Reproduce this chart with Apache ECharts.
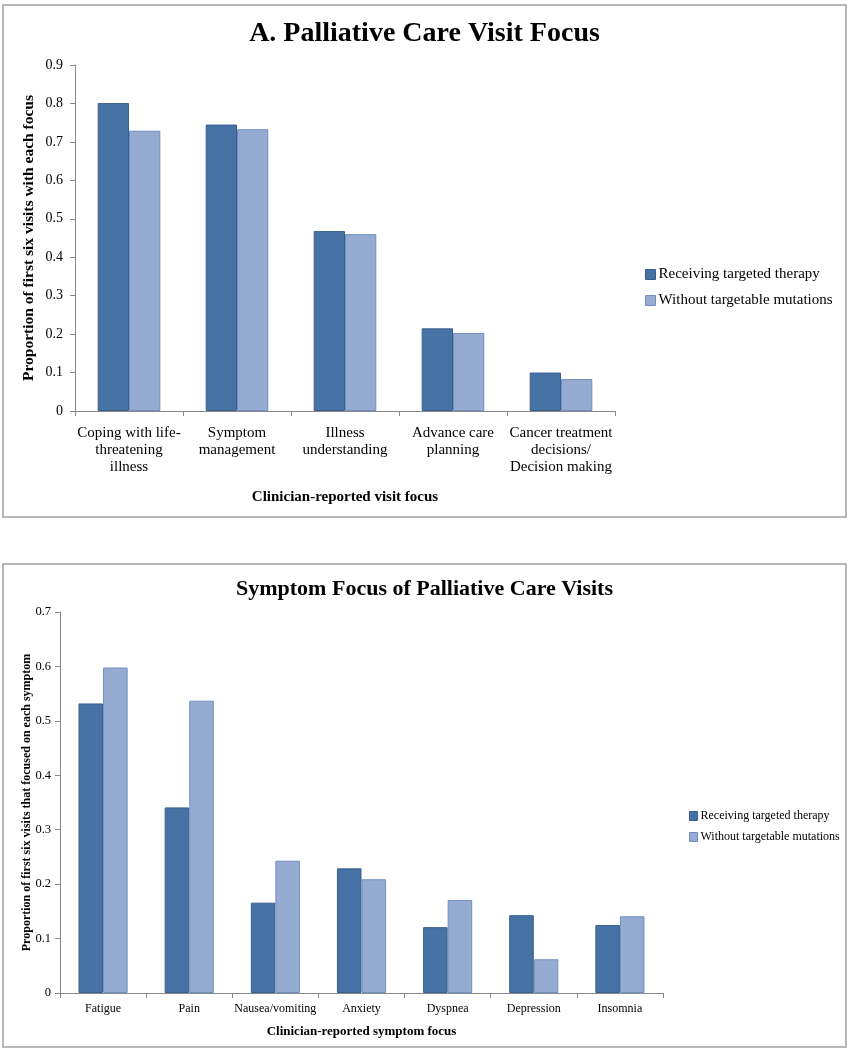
<!DOCTYPE html>
<html>
<head>
<meta charset="utf-8">
<script src="https://cdn.jsdelivr.net/npm/echarts@6/dist/echarts.min.js"></script>
<style>
html,body{margin:0;padding:0;background:#fff;}
#c{width:849px;height:1050px;}
</style>
</head>
<body>
<div id="c"></div>
<script>
// Chart A data
const catsA = ['Coping with life-\nthreatening\nillness', 'Symptom\nmanagement', 'Illness\nunderstanding', 'Advance care\nplanning', 'Cancer treatment\ndecisions/\nDecision making'];
const targetedA = [0.801, 0.745, 0.468, 0.215, 0.100];
const withoutA = [0.729, 0.733, 0.460, 0.203, 0.083];
// Chart B data
const catsB = ['Fatigue', 'Pain', 'Nausea/vomiting', 'Anxiety', 'Dyspnea', 'Depression', 'Insomnia'];
const targetedB = [0.532, 0.341, 0.166, 0.229, 0.121, 0.143, 0.125];
const withoutB = [0.598, 0.537, 0.243, 0.209, 0.171, 0.062, 0.141];
const seriesNames = ['Receiving targeted therapy', 'Without targetable mutations'];

const FONT = '"Liberation Serif", "Times New Roman", serif';
const DARK = '#4672a6', DARK_B = '#3a5e8c';
const LIGHT = '#95abd2', LIGHT_B = '#6f8fc0';
const AX = '#888888';

const chart = echarts.init(document.getElementById('c'), null, {renderer: 'canvas'});

function yAxisCfg(gridIndex, max, name, fs, nameFs, nameGap, margin) {
  return {
    type: 'value', gridIndex, min: 0, max, interval: 0.1,
    name, nameLocation: 'middle', nameGap, nameRotate: 90, nameMoveOverlap: false,
    nameTextStyle: {fontFamily: FONT, fontWeight: 'bold', fontSize: nameFs, color: '#000'},
    axisLine: {show: true, lineStyle: {color: AX, width: 1}},
    axisTick: {show: true, length: 5, inside: false, lineStyle: {color: AX}},
    splitLine: {show: false},
    axisLabel: {fontFamily: FONT, fontSize: fs, color: '#000', margin,
      formatter: v => v === 0 ? '0' : (+v.toFixed(1)).toString()}
  };
}
function xAxisCfg(gridIndex, data, name, fs, nameFs, nameGap, margin, lh) {
  return {
    type: 'category', gridIndex, data,
    name, nameLocation: 'middle', nameGap, nameMoveOverlap: false,
    nameTextStyle: {fontFamily: FONT, fontWeight: 'bold', fontSize: nameFs, color: '#000'},
    axisLine: {show: true, lineStyle: {color: AX, width: 1}},
    axisTick: {show: true, length: 5, lineStyle: {color: AX}},
    axisLabel: {fontFamily: FONT, fontSize: fs, color: '#000', margin, lineHeight: lh, interval: 0},
  };
}
function bar(name, data, xi, yi, color, border, gapPct) {
  return {
    name, type: 'bar', xAxisIndex: xi, yAxisIndex: yi, data,
    barGap: '0%', barCategoryGap: gapPct,
    itemStyle: {color, borderColor: border, borderWidth: 1},
    emphasis: {disabled: true}
  };
}

chart.setOption({
  animation: false,
  backgroundColor: '#fff',
  graphic: [
    {type: 'rect', shape: {x: 3, y: 5, width: 843, height: 512}, style: {fill: 'none', stroke: '#a0a0a0', lineWidth: 1.5}, z: -10},
    {type: 'rect', shape: {x: 3, y: 564, width: 843, height: 483}, style: {fill: 'none', stroke: '#a0a0a0', lineWidth: 1.5}, z: -10}
  ],
  title: [
    {text: 'A. Palliative Care Visit Focus', left: 'center', top: 15,
      textStyle: {fontFamily: FONT, fontWeight: 'bold', fontSize: 28, color: '#000'}},
    {text: 'Symptom Focus of Palliative Care Visits', left: 'center', top: 573,
      textStyle: {fontFamily: FONT, fontWeight: 'bold', fontSize: 22, color: '#000'}}
  ],
  legend: [
    {orient: 'vertical', left: 640, top: 262, itemWidth: 10, itemHeight: 10, itemGap: 11, icon: 'rect',
      data: seriesNames, textStyle: {fontFamily: FONT, fontSize: 15, color: '#000', padding: [0, 0, 0, -2]}, itemStyle: {borderWidth: 1}},
    {orient: 'vertical', left: 684, top: 805, itemWidth: 8, itemHeight: 9, itemGap: 9, icon: 'rect',
      data: seriesNames, textStyle: {fontFamily: FONT, fontSize: 12, color: '#000', padding: [0, 0, 0, -2]}, itemStyle: {borderWidth: 1}}
  ],
  grid: [
    {left: 75, top: 65, width: 540, height: 346},
    {left: 60, top: 612, width: 603, height: 381}
  ],
  xAxis: [
    xAxisCfg(0, catsA, 'Clinician-reported visit focus', 15, 15, 79, 14, 17),
    xAxisCfg(1, catsB, 'Clinician-reported symptom focus', 12, 13, 32, 9, 14)
  ],
  yAxis: [
    yAxisCfg(0, 0.9, 'Proportion of first six visits with each focus', 14, 15.5, 38, 12),
    yAxisCfg(1, 0.7, 'Proportion of first six visits that focused on each symptom', 12.5, 12, 27, 9)
  ],
  series: [
    bar(seriesNames[0], targetedA, 0, 0, DARK, DARK_B, '42%'),
    bar(seriesNames[1], withoutA, 0, 0, LIGHT, LIGHT_B, '42%'),
    bar(seriesNames[0], targetedB, 1, 1, DARK, DARK_B, '43%'),
    bar(seriesNames[1], withoutB, 1, 1, LIGHT, LIGHT_B, '43%')
  ]
});
</script>
</body>
</html>
